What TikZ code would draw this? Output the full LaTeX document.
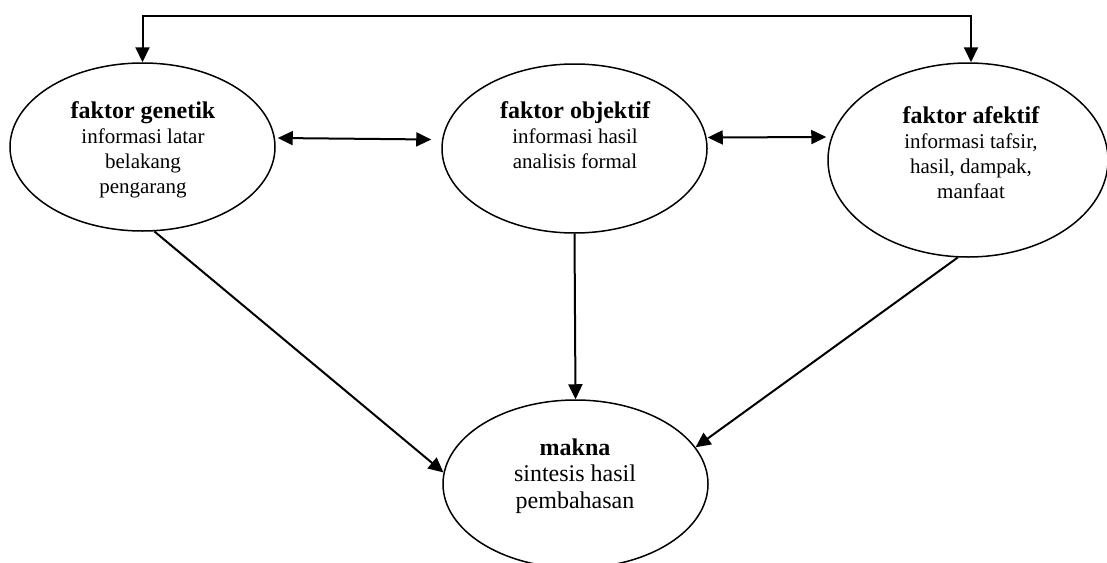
\documentclass[tikz,border=0pt]{standalone}
\usepackage{fontspec}
\setmainfont{Liberation Serif}
\usetikzlibrary{arrows.meta,calc,shapes.geometric}
\newcommand{\ttl}[1]{{\fontsize{24}{25}\selectfont\bfseries #1}}
\tikzset{
  oval/.style={draw, ellipse, line width=1.5pt, inner sep=0pt},
  txtbox/.style={align=center, inner sep=0pt, anchor=north, font=\fontsize{21}{25}\selectfont},
  conn/.style={line width=2pt, -{Triangle[length=15pt,width=14pt]}},
  dconn/.style={line width=2pt, {Triangle[length=15pt,width=14pt]}-{Triangle[length=15pt,width=14pt]}},
}
\begin{document}
\begin{tikzpicture}[x=1pt,y=-1pt]
\useasboundingbox (0,0) rectangle (1107,562);
\node[oval, minimum width=265pt, minimum height=168pt] (genetik) at (142.5,147) {};
\node[oval, minimum width=265pt, minimum height=169pt] (objektif) at (574.5,148.5) {};
\node[oval, minimum width=280pt, minimum height=194pt] (afektif) at (968,160) {};
\node[oval, minimum width=265pt, minimum height=168pt] (makna) at (575.5,484) {};

\node[txtbox] (genetikT) at (143,100) {\rule{0pt}{18pt}\ttl{faktor genetik}\\ informasi latar\\ belakang\\ pengarang};
\node[txtbox] (objektifT) at (575,100) {\rule{0pt}{18pt}\ttl{faktor objektif}\\ informasi hasil\\ analisis formal};
\node[txtbox] (afektifT) at (971,105) {\rule{0pt}{18pt}\ttl{faktor afektif}\\ informasi tafsir,\\ hasil, dampak,\\ manfaat};
\node[txtbox, font=\fontsize{24}{26.5}\selectfont] (maknaT) at (575,437) {\rule{0pt}{18pt}\textbf{makna}\\ sintesis hasil\\ pembahasan};

\coordinate (topL) at (142.5,16);
\coordinate (topR) at (971,16);
\draw[dconn] (genetik.north) -- (topL) -- (topR) -- (topR |- afektif.north);
\draw[dconn] ([xshift=2pt,yshift=9pt]genetik.east) -- ([xshift=-10pt,yshift=9pt]objektif.west);
\draw[dconn] ([yshift=11pt]objektif.east) -- ([xshift=-1pt,yshift=23pt]afektif.west);
\draw[conn] (genetik.-82) -- (makna.175);
\draw[conn] (objektif.south) -- (makna.north);
\draw[conn] (afektif.-96) -- (makna.17);
\end{tikzpicture}
\end{document}
